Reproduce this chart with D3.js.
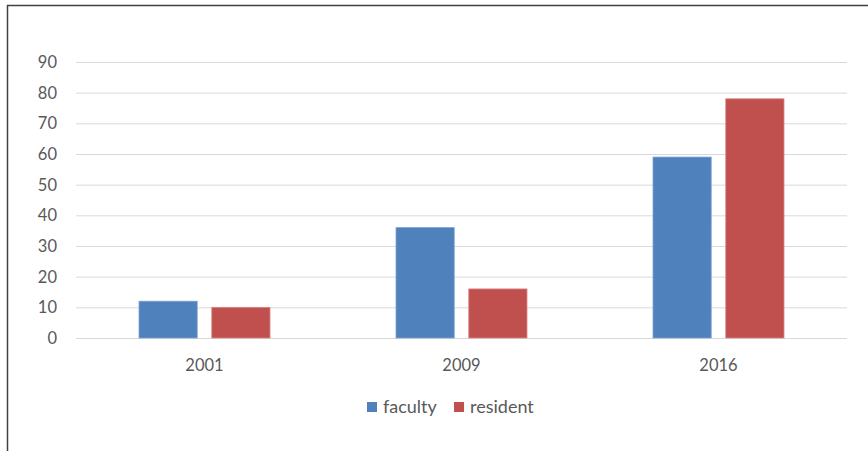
<!DOCTYPE html>
<html>
<head>
<meta charset="utf-8">
<script src="https://cdn.jsdelivr.net/npm/d3@7"></script>
<style>
  body { margin: 0; background: #fff; }
  #container { width: 868px; height: 451px; position: relative; }
  text { font-family: Lato, "Open Sans", sans-serif; fill: #595959; }
</style>
</head>
<body>
<div id="container"></div>
<script>
var years = ['2001', '2009', '2016'];
var seriesNames = ['faculty', 'resident'];
var faculty = [12, 36, 59];
var resident = [10, 16, 78];
var yTicks = [0, 10, 20, 30, 40, 50, 60, 70, 80, 90];
var colors = ['#4F81BD', '#C0504D'];

var width = 868, height = 451;

var svg = d3.select('#container')
	.append('svg')
	.attr('width', width)
	.attr('height', height);

// chart frame (right/bottom edges run off the picture)
svg.append('path')
	.attr('d', 'M7.5,' + height + 'V5.5H' + width)
	.style('fill', 'none')
	.style('stroke', '#404040')
	.style('stroke-width', 1.5);

var x = d3.scaleBand()
	.domain(years)
	.range([76, 847]);

var y = d3.scaleLinear()
	.domain([0, 90])
	.range([338, 62]);

var inner = d3.scaleBand()
	.domain(seriesNames)
	.range([x.bandwidth() / 2 - 65.5, x.bandwidth() / 2 + 65.5])
	.paddingInner(0.2);

svg.selectAll('.grid')
	.data(yTicks)
	.enter()
	.append('line')
	.attr('class', 'grid')
	.attr('x1', 76)
	.attr('x2', 847)
	.attr('y1', function(d){ return y(d) + 0.5; })
	.attr('y2', function(d){ return y(d) + 0.5; })
	.style('stroke', '#D9D9D9')
	.style('stroke-width', 1);

svg.selectAll('.y-label')
	.data(yTicks)
	.enter()
	.append('text')
	.attr('class', 'y-label')
	.attr('x', 57)
	.attr('y', function(d){ return y(d) + 6; })
	.attr('text-anchor', 'end')
	.style('font-size', '16.5px')
	.text(function(d){ return d; });

var rows = years.map(function(yr, i){
	return [{key: 'faculty', value: faculty[i]}, {key: 'resident', value: resident[i]}];
});

var groups = svg.selectAll('.year')
	.data(rows)
	.enter()
	.append('g')
	.attr('class', 'year')
	.attr('transform', function(d, i){ return 'translate(' + x(years[i]) + ',0)'; });

groups.selectAll('rect')
	.data(function(d){ return d; })
	.enter()
	.append('rect')
	.attr('x', function(d){ return inner(d.key); })
	.attr('y', function(d){ return y(d.value); })
	.attr('width', inner.bandwidth())
	.attr('height', function(d){ return y(0) - y(d.value); })
	.style('fill', function(d, i){ return colors[i]; })
	.style('stroke', function(d, i){ return i == 0 ? '#7FA2D4' : '#D98583'; })
	.style('stroke-width', 0.8);

svg.selectAll('.x-label')
	.data(years)
	.enter()
	.append('text')
	.attr('class', 'x-label')
	.attr('x', function(d){ return x(d) + x.bandwidth() / 2; })
	.attr('y', 371)
	.attr('text-anchor', 'middle')
	.style('font-size', '16.5px')
	.text(function(d){ return d; });

// legend
var legendX = [367, 454];
var legend = svg.selectAll('.legend')
	.data(seriesNames)
	.enter()
	.append('g')
	.attr('class', 'legend')
	.attr('transform', function(d, i){ return 'translate(' + legendX[i] + ',402)'; });

legend.append('rect')
	.attr('width', 10)
	.attr('height', 10)
	.style('fill', function(d, i){ return colors[i]; });

legend.append('text')
	.attr('x', 16)
	.attr('y', 11)
	.style('font-size', '18px')
	.text(function(d){ return d; });
</script>
</body>
</html>
